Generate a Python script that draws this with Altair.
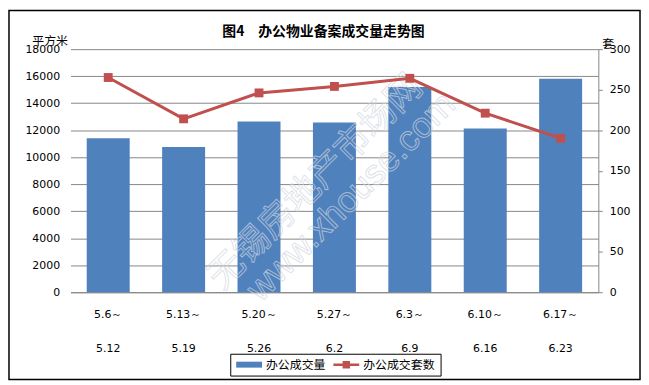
import altair as alt
import pandas as pd

# ---- data ----
week_start = ["5.6～", "5.13～", "5.20～", "5.27～", "6.3～", "6.10～", "6.17～"]
week_end = ["5.12", "5.19", "5.26", "6.2", "6.9", "6.16", "6.23"]
office_area = [11400, 10750, 12650, 12570, 15200, 12130, 15800]   # 平方米 (left axis)
office_units = [265, 214, 246, 254, 264, 221, 190]                 # 套 (right axis)
series_names = ["办公成交量", "办公成交套数"]
series_colors = ["#4F81BD", "#C0504D"]
area_ticks = list(range(0, 18001, 2000))
unit_ticks = list(range(0, 301, 50))

labels = [f"{a}|{b}" for a, b in zip(week_start, week_end)]
df = pd.DataFrame({"week": labels, "area": office_area, "units": office_units})
legend_df = pd.DataFrame({"series": series_names})

W, H = 532, 245
CJK = "Noto Sans CJK SC"
NUM = "DejaVu Sans"
GRID = "#878787"

# legend symbols: filled paths (bar swatch / line with square marker)
bar_sym = "M-1,-0.6H4.2V0.6H-1Z"
line_sym = "M-1,-0.25H4.2V0.25H-1Z M0.85,-0.75H2.35V0.75H0.85Z"

fill_scale = alt.Scale(domain=series_names, range=series_colors)
shape_scale = alt.Scale(domain=series_names, range=[bar_sym, line_sym])

legend = alt.Legend(
    orient="none", legendX=161, legendY=307, direction="horizontal", title=None,
    symbolSize=100, symbolOpacity=1, symbolStrokeWidth=0, labelOffset=19,
    labelFont=CJK, labelFontSize=12, labelColor="black",
    strokeColor="black", padding=5, columnPadding=6,
)

x_enc = alt.X(
    "week:N", sort=labels,
    scale=alt.Scale(paddingInner=0.43, paddingOuter=0.215),
    axis=alt.Axis(
        title=None, labelExpr="split(datum.label, '|')", labelAngle=0,
        labelLineHeight=35, labelPadding=16, ticks=False, domainColor=GRID,
        labelFont=NUM, labelFontSize=11, labelColor="black", grid=False,
    ),
)

bars = alt.Chart(df).transform_calculate(
    series=f"'{series_names[0]}'"
).mark_bar().encode(
    x=x_enc,
    y=alt.Y(
        "area:Q", scale=alt.Scale(domain=[0, 18000], nice=False),
        axis=alt.Axis(
            values=area_ticks, format="d", title="平方米", titleAngle=0,
            titleX=-21, titleY=-9, titleAlign="center", titleBaseline="middle",
            titleFont=CJK, titleFontSize=12, titleFontWeight="normal",
            titleColor="black", domain=False, ticks=False, labelPadding=11,
            labelFont=NUM, labelFontSize=11, labelColor="black", grid=True,
            gridColor=GRID,
        ),
    ),
    fill=alt.Fill("series:N", scale=fill_scale, legend=legend),
)

watermark1 = alt.Chart(alt.Data(values=[{}])).mark_text(
    text="无锡房地产市场网", font=CJK, fontSize=36, angle=315,
    fillOpacity=0, stroke="#cfd6df", strokeOpacity=0.7, strokeWidth=1,
    align="center", baseline="middle",
).encode(x=alt.value(247), y=alt.value(134))

watermark2 = alt.Chart(alt.Data(values=[{}])).mark_text(
    text="www.xhouse.com", font="Liberation Sans", fontSize=36, angle=315,
    fillOpacity=0, stroke="#cfd6df", strokeOpacity=0.7, strokeWidth=1,
    align="center", baseline="middle",
).encode(x=alt.value(283), y=alt.value(149))

line = alt.Chart(df).mark_line(
    color=series_colors[1], strokeWidth=3,
    point=alt.OverlayMarkDef(shape="square", size=80, filled=True,
                             color=series_colors[1], opacity=1),
).encode(
    x=alt.X("week:N", sort=labels),
    y=alt.Y(
        "units:Q", scale=alt.Scale(domain=[0, 300], nice=False),
        axis=alt.Axis(
            orient="right", values=unit_ticks, title="套", titleAngle=0,
            titleX=9.5, titleY=-5.5, titleAlign="center", titleBaseline="middle",
            titleFont=CJK, titleFontSize=12, titleFontWeight="normal",
            titleColor="black", domainColor=GRID, tickColor=GRID, tickSize=4,
            labelPadding=7, labelFont=NUM, labelFontSize=11, labelColor="black",
            grid=False,
        ),
    ),
)

legend_layer = alt.Chart(legend_df).mark_point(filled=True, clip=True, opacity=1).encode(
    x=alt.value(-60), y=alt.value(-60),
    fill=alt.Fill("series:N", scale=fill_scale, legend=legend),
    shape=alt.Shape("series:N", scale=shape_scale, legend=legend),
)

frame = alt.Chart(alt.Data(values=[{}])).mark_rect(
    fill="transparent", stroke="black", strokeWidth=1.5
).encode(x=alt.value(-62), x2=alt.value(574), y=alt.value(-39), y2=alt.value(333))

chart = alt.layer(
    frame, bars, watermark1, watermark2, line, legend_layer
).resolve_scale(y="independent").properties(
    width=W, height=H,
    autosize=alt.AutoSizeParams(type="none"),
    padding={"left": 63, "top": 40, "right": 43, "bottom": 89},
    background="white",
    title=alt.TitleParams(
        "图4　办公物业备案成交量走势图", font=CJK, fontSize=14, fontWeight="bold",
        color="black", anchor="middle", dx=-11, dy=58, offset=18, frame="group",
        baseline="alphabetic",
    ),
).configure_view(stroke=None)

chart.save("out.html", embed_options={"renderer": "svg", "actions": False})
